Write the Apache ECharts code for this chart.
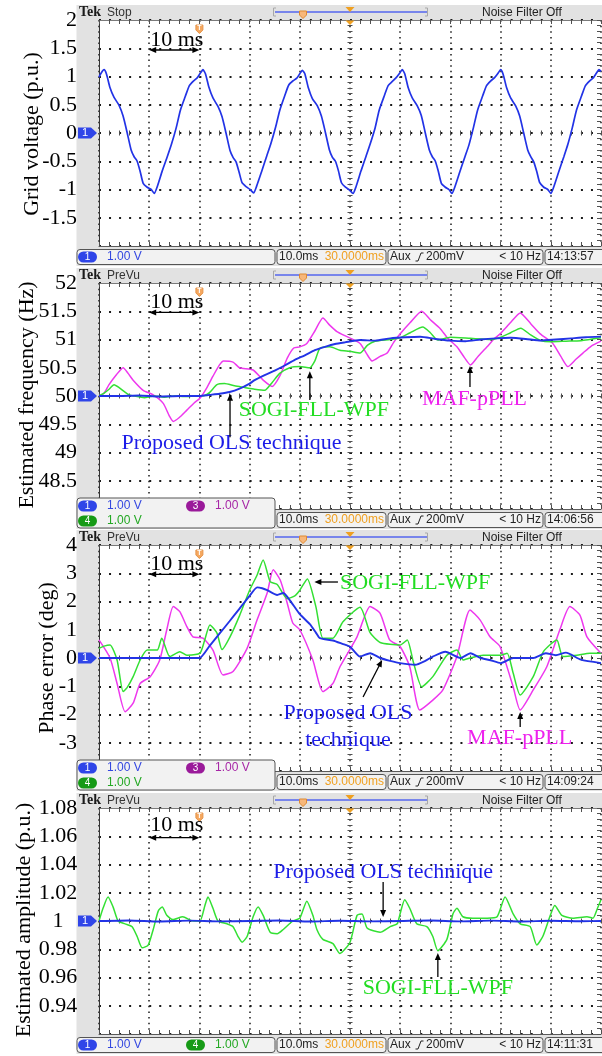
<!DOCTYPE html>
<html>
<head>
<meta charset="utf-8">
<title>Grid synchronisation: OLS vs SOGI-FLL-WPF vs MAF-pPLL</title>
<script src="https://cdn.jsdelivr.net/npm/echarts@6.0.0/dist/echarts.min.js"></script>
<style>
html,body{margin:0;padding:0;background:#ffffff;}
#chart{width:602px;height:1056px;}
</style>
</head>
<body>
<div id="chart"></div>
<script>
// ---------- scope captures, time in ms (10 ms/div, 100 ms on screen) ----------

// grid voltage (p.u.)
const gridVoltage = [
  [0,0.99],[0.5,1.07],[1.0,1.12],[1.5,1.04],[2.2,0.80],[3.0,0.63],[4.0,0.49],[4.8,0.30],[5.6,0.01],[6.4,-0.30],[7.0,-0.42],[7.6,-0.50],[8.2,-0.68],[8.8,-0.89],[9.6,-0.96],[10.4,-1.00],[11.0,-1.07],
  [11.6,-0.95],[12.6,-0.67],[13.6,-0.42],[14.4,-0.21],[15.4,0.10],[16.2,0.40],[17.2,0.65],[18.0,0.84],[18.8,0.92],[19.6,0.98],[20.2,1.06],[20.7,1.12],
  [21.2,1.05],[21.9,0.81],[22.7,0.62],[23.7,0.47],[24.5,0.29],[25.3,0.00],[26.1,-0.31],[26.7,-0.43],[27.3,-0.51],[27.9,-0.69],[28.5,-0.88],[29.3,-0.95],[30.1,-1.00],[30.8,-1.06],
  [31.4,-0.94],[32.4,-0.68],[33.4,-0.41],[34.2,-0.20],[35.2,0.11],[36.0,0.40],[37.0,0.66],[37.8,0.85],[38.6,0.92],[39.4,0.97],[40.0,1.05],[40.5,1.11],
  [41.0,1.05],[41.7,0.80],[42.5,0.61],[43.5,0.48],[44.3,0.30],[45.1,0.01],[45.9,-0.30],[46.5,-0.43],[47.1,-0.50],[47.7,-0.67],[48.3,-0.88],[49.1,-0.96],[49.9,-1.01],[50.6,-1.07],
  [51.2,-0.95],[52.2,-0.67],[53.2,-0.41],[54.0,-0.20],[55.0,0.09],[55.8,0.40],[56.8,0.65],[57.6,0.84],[58.4,0.91],[59.2,0.98],[59.9,1.06],[60.4,1.12],
  [60.9,1.05],[61.6,0.80],[62.4,0.62],[63.4,0.48],[64.2,0.31],[65.0,0.00],[65.8,-0.30],[66.4,-0.42],[67.0,-0.50],[67.6,-0.68],[68.2,-0.89],[69.0,-0.96],[69.7,-1.00],[70.3,-1.07],
  [70.9,-0.95],[71.9,-0.68],[72.9,-0.42],[73.7,-0.21],[74.6,0.10],[75.4,0.40],[76.4,0.65],[77.2,0.84],[78.0,0.92],[78.8,0.98],[79.5,1.06],[80.0,1.12],
  [80.5,1.04],[81.2,0.80],[82.0,0.62],[83.0,0.48],[83.8,0.30],[84.6,0.00],[85.4,-0.30],[86.0,-0.42],[86.6,-0.51],[87.2,-0.68],[87.8,-0.88],[88.6,-0.96],[89.4,-1.00],[90.0,-1.07],
  [90.6,-0.95],[91.6,-0.68],[92.6,-0.42],[93.4,-0.20],[94.3,0.10],[95.1,0.40],[96.1,0.65],[96.9,0.84],[97.7,0.92],[98.5,0.98],[99.1,1.06],[99.6,1.12],[100,1.09]
];

// estimated frequency (Hz)
const freqOLS = [
  [0,50.0],[4,50.0],[8,50.01],[12,49.99],[16,50.0],[20,50.0],[22,50.02],[24,50.04],[26,50.07],[28,50.13],[30,50.22],[31,50.28],[33,50.37],[35,50.45],[37,50.54],[39,50.64],[41,50.72],[43,50.81],[45,50.87],[47,50.92],[49,50.95],[52,50.99],[55,50.98],[58,51.02],[61,51.04],[64,51.05],[67,51.01],[70,50.98],[73,50.97],[76,51.0],[79,51.02],[82,51.03],[85,51.01],[88,50.98],[91,51.0],[94,51.02],[97,51.04],[100,51.05]
];
const freqSOGI = [
  [0,50.0],[1,50.05],[2,50.12],[3,50.2],[4,50.15],[5,50.08],[6,50.02],[7,50.0],[9,49.97],[11,50.0],[13,49.98],[15,50.0],[17,49.99],[19,50.0],[21,50.01],[22,50.06],[23.5,50.2],[25,50.22],[27,50.18],[29,50.15],[31,50.12],[33,50.1],[34.5,50.24],[36,50.4],[38,50.5],[40,50.52],[42,50.5],[43,50.62],[44,50.84],[46,50.87],[48,50.81],[50,50.79],[52,50.76],[53.5,50.9],[55,50.97],[58,51.0],[60,51.03],[62,51.12],[64.5,51.22],[66,51.12],[67.5,50.99],[70,51.04],[74,51.02],[78,51.0],[80,51.04],[82,51.12],[84,51.2],[86,51.08],[88,50.98],[90,50.96],[93,50.97],[96,50.98],[100,51.03]
];
const freqMAF = [
  [0,50.0],[1,50.05],[2,50.2],[3.5,50.38],[4.8,50.5],[5.8,50.4],[6.8,50.28],[8.8,50.1],[10.8,50.02],[12.8,49.87],[14,49.65],[14.8,49.55],[16,49.62],[17.5,49.75],[19,49.88],[20.1,49.96],[21.5,50.15],[22.7,50.35],[24,50.55],[24.8,50.62],[26.7,50.6],[28,50.5],[30.7,50.46],[32.7,50.28],[34.5,50.17],[36,50.35],[37.5,50.67],[38.8,50.85],[40,50.87],[41.4,50.93],[43,51.15],[44.6,51.38],[46,51.25],[47.4,51.14],[49.4,51.05],[52,50.93],[53.3,50.75],[54.4,50.62],[56,50.7],[57.4,50.76],[58.7,50.95],[60,51.1],[62,51.3],[64.3,51.5],[66,51.35],[67.9,51.2],[69.5,51.02],[71.3,50.87],[72.8,50.68],[74,50.55],[75.5,50.7],[77.3,50.87],[78.6,51.0],[79.9,51.1],[82,51.3],[83.9,51.47],[86,51.28],[87.9,51.1],[90.4,50.93],[92,50.7],[93.4,50.52],[95,50.65],[96.4,50.76],[98,50.88],[100,50.97]
];

// phase error (deg)
const phaseOLS = [
  [0,0],[5,0.0],[10,0.0],[15,0.0],[20,0.0],[22,0.42],[24,0.86],[26,1.3],[28,1.75],[30,2.2],[31.5,2.5],[32.5,2.47],[33.5,2.4],[35.5,2.23],[36.7,2.3],[38,2.05],[40,1.55],[42,1.2],[43.2,0.9],[44,0.7],[46.6,0.62],[48.5,0.5],[50,0.4],[52,0.05],[54,0.17],[56,0.0],[58,-0.1],[60,-0.18],[63,-0.24],[65,-0.1],[66.5,0.05],[69,0.22],[72,0.0],[74,0.17],[76,0.0],[78,-0.08],[80,-0.18],[82.5,0.0],[86.5,0.0],[89,0.17],[91,0.1],[93,0.19],[96,-0.06],[100,-0.18]
];
const phaseSOGI = [
  [0,0.34],[1,0.42],[2.2,0.46],[3.6,-0.07],[4.8,-1.19],[5.6,-1.05],[6.8,-0.66],[8.2,-0.07],[9.6,0.28],[11.6,0.28],[12.5,0.7],[14.1,0.05],[16.1,0.22],[17.5,0.1],[20.1,0.17],[21,0.6],[22.1,1.17],[23.5,0.88],[24.5,0.3],[26.1,0.75],[28,1.5],[30,2.4],[31.5,2.94],[32.7,3.47],[34.1,2.7],[35.5,2.6],[37.5,2.1],[39,2.2],[40,2.4],[41.5,2.8],[43.2,1.82],[44.6,0.7],[46.6,0.7],[48.6,1.28],[52,1.8],[54,0.9],[56,0.55],[60,0.46],[61.4,0.64],[62.6,-0.13],[64.3,-1.02],[66.5,-0.66],[69.3,0.1],[71.3,0.28],[72.5,-0.07],[73.9,0.0],[76.5,0.1],[79.9,0.1],[81.3,0.17],[82.5,-0.53],[83.9,-1.31],[86.5,-0.66],[88.5,0.22],[91.2,0.64],[92.4,0.05],[95.2,0.1],[97.8,0.17],[100,0.17]
];
const phaseMAF = [
  [0,0.64],[2.2,0.0],[3.6,-0.9],[5.2,-1.9],[6.8,-1.6],[8.2,-0.9],[10.2,-0.66],[12.1,-0.07],[13.5,1.0],[14.8,1.82],[16.1,1.64],[17.5,1.11],[18.7,0.75],[20.7,0.7],[22.7,0.28],[24.7,-0.6],[26.7,-0.48],[29.5,0.34],[31.5,1.35],[33.5,2.3],[34.7,3.12],[36.1,2.76],[37.5,1.94],[38.6,1.24],[40,1.0],[42.6,-0.07],[44.6,-1.19],[46.6,-0.9],[48,-0.31],[51.4,0.75],[54,1.82],[56,1.58],[57.9,0.64],[60,0.4],[61.9,-0.31],[63.9,-1.84],[66.5,-1.49],[68.5,-1.13],[71.3,0.05],[73.9,1.7],[75.9,1.35],[77.9,0.75],[79.9,0.4],[82.5,-1.02],[83.9,-1.84],[86.5,-1.13],[89.2,-0.31],[91.8,1.0],[93.8,1.82],[95.8,1.52],[97.2,0.75],[100,0.17]
];

// estimated amplitude (p.u.)
const ampOLS = [
  [0,1.0],[6,1.0004],[12,0.9996],[18,1.0003],[24,0.9997],[30,1.0],[36,1.0004],[42,0.9996],[48,1.0002],[54,0.9997],[60,1.0],[66,1.0004],[72,0.9997],[78,1.0003],[84,0.9996],[90,1.0002],[96,0.9998],[100,1.0]
];
const ampSOGI = [
  [0,1.0],[0.8,1.009],[1.8,1.017],[2.8,1.010],[3.8,1.0],[5.2,0.998],[6.6,0.996],[7.6,0.989],[8.6,0.981],[9.8,0.983],[10.8,0.994],[11.8,1.007],[12.6,1.01],[13.5,1.004],[14.7,1.001],[16.7,1.003],[18.7,1.0],[20.1,1.0],[21.1,1.011],[21.7,1.017],[22.7,1.009],[23.7,1.0],[25.5,0.998],[26.7,0.996],[27.7,0.989],[28.5,0.985],[29.5,0.989],[30.7,1.003],[31.7,1.01],[32.7,1.004],[34.1,0.992],[35.5,0.991],[36.7,0.994],[38.6,1.0],[40,1.002],[41.4,1.014],[42.6,1.004],[43.4,0.994],[44.6,0.987],[46.6,0.984],[48,0.977],[50,0.985],[51.4,1.004],[52.4,1.005],[53.4,0.995],[56,0.992],[58,0.996],[59.4,0.998],[59.9,1.004],[60.9,1.015],[61.9,1.009],[63.3,0.998],[65.3,0.996],[66.5,0.989],[67.5,0.979],[69.3,0.987],[70.5,1.005],[71.3,1.009],[72.5,1.003],[74.5,1.002],[77.3,1.002],[79.3,1.003],[80.9,1.017],[82.5,1.005],[83.9,0.998],[85.9,0.996],[87.2,0.983],[88.4,0.989],[89.8,1.003],[90.8,1.011],[92.2,1.004],[94.4,1.002],[97.2,1.003],[98.4,1.002],[99.3,1.009],[100,1.015]
];

// vertical tick labels, top to bottom
const voltTicks  = ['2','1.5','1','0.5','0','-0.5','-1','-1.5'];
const freqTicks  = ['52','51.5','51','50.5','50','49.5','49','48.5'];
const phaseTicks = ['4','3','2','1','0','-1','-2','-3'];
const ampTicks   = ['1.08','1.06','1.04','1.02','1','0.98','0.96','0.94'];

const axisTitles = ['Grid voltage (p.u.)','Estimated frequency (Hz)','Phase error (deg)','Estimated amplitude (p.u.)'];
const clocks = ['14:13:57','14:06:56','14:09:24','14:11:31'];

// ---------- look ----------
const SERIF = '"Liberation Serif", "Times New Roman", serif';
const SANS = '"Liberation Sans Narrow", "Liberation Sans", Arial, sans-serif';
const COL = {
  ols:'#2233e6', sogi:'#33e033', maf:'#ee38ee',
  olsText:'#1c1ce8', sogiText:'#22dd22', mafText:'#ee22ee',
  orange:'#f0a020', frame:'#e2e2e2', box:'#f2f2f2'
};
const CH = {
  '1': {pill:'#2f45e8', text:'#3347e0'},
  '3': {pill:'#9a1a9a', text:'#a626a6'},
  '4': {pill:'#169a16', text:'#23a823'}
};

const PLOT_LEFT = 99, PLOT_W = 502, PLOT_H = 226;
const PANEL_TOP = [20, 283, 545, 808];

const panels = [
  {min:-2, max:2, ticks:voltTicks, title:axisTitles[0], titlePos:[32,134], labelAlign:'right', labelMargin:22,
   ref:0, state:'Stop', clock:clocks[0], readout:[['1']],
   traces:[{data:gridVoltage, color:COL.ols, width:1.7}]},
  {min:48, max:52, ticks:freqTicks, title:axisTitles[1], titlePos:[27,395], labelAlign:'right', labelMargin:22,
   ref:50, state:'PreVu', clock:clocks[1], readout:[['1','3'],['4']],
   traces:[{data:freqMAF, color:COL.maf, width:1.5},{data:freqSOGI, color:COL.sogi, width:1.5},{data:freqOLS, color:COL.ols, width:1.9}]},
  {min:-4, max:4, ticks:phaseTicks, title:axisTitles[2], titlePos:[47,658], labelAlign:'right', labelMargin:22,
   ref:0, state:'PreVu', clock:clocks[2], readout:[['1','3'],['4']],
   traces:[{data:phaseMAF, color:COL.maf, width:1.5},{data:phaseSOGI, color:COL.sogi, width:1.5},{data:phaseOLS, color:COL.ols, width:1.9}]},
  {min:0.92, max:1.08, ticks:ampTicks, title:axisTitles[3], titlePos:[24,920], labelAlign:'center', labelMargin:41,
   ref:1, state:'PreVu', clock:clocks[3], readout:[['1','4']],
   traces:[{data:ampSOGI, color:COL.sogi, width:1.5},{data:ampOLS, color:COL.ols, width:1.9}]}
];

// 10 ms scale bar (text level, arrow level) in each panel's units
const scaleBar = [[1.646,1.469],[51.655,51.48],[3.31,2.963],[1.0676,1.059]];

// method labels and pointer arrows, in data units of their panel
const notes = [
  {panel:1, text:'SOGI-FLL-WPF', color:COL.sogiText, at:[42.8,49.75]},
  {panel:1, text:'MAF-pPLL', color:COL.mafText, at:[74.8,49.94]},
  {panel:1, text:'Proposed OLS technique', color:COL.olsText, at:[26.4,49.17]},
  {panel:2, text:'SOGI-FLL-WPF', color:COL.sogiText, at:[48.0,2.655], align:'left'},
  {panel:2, text:'Proposed OLS\ntechnique', color:COL.olsText, at:[49.6,-2.42]},
  {panel:2, text:'MAF-pPLL', color:COL.mafText, at:[83.8,-2.83]},
  {panel:3, text:'Proposed OLS technique', color:COL.olsText, at:[56.6,1.0347]},
  {panel:3, text:'SOGI-FLL-WPF', color:COL.sogiText, at:[67.5,0.9526]}
];
const pointers = [
  {panel:1, from:[42.0,49.93], to:[42.0,50.44]},
  {panel:1, from:[73.9,50.16], to:[73.9,50.53]},
  {panel:1, from:[26.1,49.27], to:[26.1,50.04]},
  {panel:2, from:[47.6,2.69], to:[42.9,2.69]},
  {panel:2, from:[52.6,-1.38], to:[56.4,-0.07]},
  {panel:2, from:[83.9,-2.44], to:[83.9,-1.91]},
  {panel:3, from:[56.6,1.0276], to:[56.6,1.0028]},
  {panel:3, from:[67.5,0.9604], to:[67.5,0.9774]}
];

// ---------- chart ----------
const chart = echarts.init(document.getElementById('chart'), null, {renderer:'canvas', width:602, height:1056});

const dotColor = '#1a1a1a', tickColor = '#505050';
const grid = [], xAxis = [], yAxis = [], series = [];

function tickText(p, v) {
  const step = (p.max - p.min) / 8;
  const idx = Math.round((p.max - v) / step);
  return (idx >= 0 && idx < p.ticks.length) ? p.ticks[idx] : '';
}
function tickSet(inside, len) {
  const ls = {color: tickColor, width: 1};
  return {
    axisTick: {show:true, inside, length:len, lineStyle:ls},
    minorTick: {show:true, splitNumber:5, length:len, lineStyle:ls}
  };
}
function plainGrid(top, width, height) {
  grid.push({left:PLOT_LEFT, top, width, height, containLabel:false, outerBoundsMode:'none'});
  return grid.length - 1;
}

panels.forEach((p, i) => {
  const top = PANEL_TOP[i];
  const step = (p.max - p.min) / 8;
  const gMain = grid.length;
  grid.push({left:PLOT_LEFT, top, width:PLOT_W, height:PLOT_H, containLabel:false, outerBoundsMode:'none',
    show:true, backgroundColor:'#ffffff', borderWidth:0, z:0});

  const time = {type:'value', min:0, max:100, interval:10, axisLabel:{show:false}, splitLine:{show:false}, z:1};
  const level = {type:'value', min:p.min, max:p.max, interval:step, axisLabel:{show:false}, splitLine:{show:false}, z:1};

  p.xIndex = xAxis.length;
  xAxis.push(Object.assign({}, time, tickSet(true, 4), {gridIndex:gMain, position:'bottom',
    axisLine:{show:true, onZero:false, lineStyle:{color:'#5a5a5a', width:1}},
    splitLine:{show:true, lineStyle:{color:dotColor, width:1.5, type:[1.5, 4.15]}}}));
  xAxis.push(Object.assign({}, time, tickSet(true, 4), {gridIndex:gMain, position:'top',
    axisLine:{show:true, onZero:false, lineStyle:{color:'#7a7a7a', width:1}}}));
  p.yIndex = yAxis.length;
  yAxis.push(Object.assign({}, level, {gridIndex:gMain, position:'left',
    axisLine:{show:true, onZero:false, lineStyle:{color:'#333', width:1}},
    axisTick:{show:false},
    axisLabel:{show:true, margin:p.labelMargin, align:p.labelAlign, fontFamily:SERIF, fontSize:22, color:'#000',
      formatter: v => tickText(p, v)},
    splitLine:{show:true, lineStyle:{color:dotColor, width:2, type:[2, 8.04]}}}));
  yAxis.push(Object.assign({}, level, tickSet(true, 4), {gridIndex:gMain, position:'right', axisLine:{show:false, onZero:false}}));

  // horizontal centre line: short cross ticks (its lower edge is the centre line)
  const gUpper = plainGrid(top, PLOT_W, PLOT_H / 2);
  xAxis.push(Object.assign({}, time, tickSet(true, 2.5), {gridIndex:gUpper, position:'bottom', axisLine:{show:false, onZero:false}}));
  xAxis.push(Object.assign({}, time, tickSet(false, 2.5), {gridIndex:gUpper, position:'bottom', axisLine:{show:false, onZero:false}}));
  yAxis.push({type:'value', gridIndex:gUpper, show:false, min:0, max:1, axisLine:{onZero:false}});

  // vertical centre line ticks
  const gLeft = plainGrid(top, PLOT_W / 2, PLOT_H);
  xAxis.push({type:'value', gridIndex:gLeft, show:false, min:0, max:50, axisLine:{onZero:false}});
  yAxis.push(Object.assign({}, level, tickSet(true, 2.5), {gridIndex:gLeft, position:'right', axisLine:{show:false, onZero:false}}));
  yAxis.push(Object.assign({}, level, tickSet(false, 2.5), {gridIndex:gLeft, position:'right', axisLine:{show:false, onZero:false}}));

  p.traces.forEach(tr => series.push({
    type:'line', xAxisIndex:p.xIndex, yAxisIndex:p.yIndex, data:tr.data,
    symbol:'none', showSymbol:false, silent:true, z:3, smooth:0.2,
    lineStyle:{color:tr.color, width:tr.width}, itemStyle:{color:tr.color}
  }));
});

chart.setOption({animation:false, textStyle:{fontFamily:SERIF}, grid, xAxis, yAxis, series});

// ---------- scope frame, readouts and annotations ----------
const els = [];
const toPx = (p, t, v) => chart.convertToPixel({xAxisIndex:p.xIndex, yAxisIndex:p.yIndex}, [t, v]);

function txt(x, y, text, fill, font, align, z, extra) {
  els.push({type:'text', z: z == null ? 12 : z, silent:true, x, y,
    style: Object.assign({text, fill, font, align: align || 'left', verticalAlign:'middle',
      textAlign: align || 'left', textVerticalAlign:'middle'}, extra || {})});
}
function rect(x, y, w, h, fill, stroke, r, z) {
  els.push({type:'rect', z: z == null ? 11 : z, silent:true, shape:{x, y, width:w, height:h, r: r || 0},
    style:{fill, stroke: stroke || null, lineWidth:1}});
}
function poly(points, fill, stroke, z) {
  els.push({type:'polygon', z: z == null ? 12 : z, silent:true, shape:{points}, style:{fill, stroke: stroke || null, lineWidth:1}});
}
function pline(points, stroke, w, z) {
  els.push({type:'polyline', z: z == null ? 12 : z, silent:true, shape:{points}, style:{stroke, lineWidth: w || 1, fill:null}});
}
function arrow(a, b, both) {
  const dx = b[0] - a[0], dy = b[1] - a[1];
  const len = Math.hypot(dx, dy), ux = dx / len, uy = dy / len;
  const hl = 7, hw = 3;
  const head = (tip, dx1, dy1) => poly([tip,
    [tip[0] - dx1 * hl - dy1 * hw, tip[1] - dy1 * hl + dx1 * hw],
    [tip[0] - dx1 * hl + dy1 * hw, tip[1] - dy1 * hl - dx1 * hw]], '#000', null, 20);
  const s = both ? [a[0] + ux * hl * 0.8, a[1] + uy * hl * 0.8] : a;
  const e = [b[0] - ux * hl * 0.8, b[1] - uy * hl * 0.8];
  els.push({type:'line', z:20, silent:true, shape:{x1:s[0], y1:s[1], x2:e[0], y2:e[1]}, style:{stroke:'#000', lineWidth:1.3}});
  head(b, ux, uy);
  if (both) head(a, -ux, -uy);
}

const small = '12px ' + SANS;
const annotFont = '22px ' + SERIF;

panels.forEach((p, i) => {
  const top = PANEL_TOP[i];
  // screen body around the graticule (top bar, left strip, readout strip)
  rect(76.5, top - 15, 526, 15, COL.frame, null, 0, -10);
  rect(76.5, top, PLOT_LEFT - 76.5, PLOT_H, COL.frame, null, 0, -10);
  rect(76.5, top + PLOT_H, 526, 20, COL.frame, null, 0, -10);

  // top bar
  txt(79, top - 7.5, 'Tek', '#1a1a1a', 'bold 14px ' + SERIF, 'left');
  txt(107, top - 7, p.state, '#333', small, 'left');
  pline([[276, top - 12], [273.5, top - 12], [273.5, top - 4], [276, top - 4]], '#a8a8a8', 1);
  pline([[425, top - 12], [427.5, top - 12], [427.5, top - 4], [425, top - 4]], '#a8a8a8', 1);
  els.push({type:'line', z:12, silent:true, shape:{x1:275, y1:top - 8, x2:427, y2:top - 8}, style:{stroke:'#5566ee', lineWidth:1.5}});
  poly([[345.5, top - 13], [354.5, top - 13], [350, top - 8]], COL.orange);
  poly([[299.5, top - 9], [306.5, top - 9], [306.5, top - 5], [303, top - 1.5], [299.5, top - 5]], '#f7b77a', '#e08a30');
  txt(482, top - 7, 'Noise Filter Off', '#222', small, 'left');

  // trigger markers inside the graticule
  poly([[345.5, top + 0.5], [354.5, top + 0.5], [350, top + 5]], COL.orange);
  const trigX = toPx(p, 20, p.max)[0];
  poly([[trigX - 3.5, top + 5], [trigX + 3.5, top + 5], [trigX + 3.5, top + 10], [trigX, top + 13.5], [trigX - 3.5, top + 10]], '#f5a860', '#e6954a');
  txt(trigX, top + 8.5, 'T', '#ffffff', 'bold 7px ' + SANS, 'center');

  // channel 1 ground marker
  const refY = toPx(p, 0, p.ref)[1];
  poly([[78, refY - 5.5], [91, refY - 5.5], [97, refY], [91, refY + 5.5], [78, refY + 5.5]], CH['1'].pill);
  txt(85, refY, '1', '#ffffff', '11px ' + SANS, 'center');

  // y axis title
  els.push({type:'text', z:12, silent:true, x:p.titlePos[0], y:p.titlePos[1], rotation:Math.PI / 2,
    style:{text:p.title, fill:'#000', font:annotFont, align:'center', verticalAlign:'middle', textAlign:'center', textVerticalAlign:'middle'}});

  // status bar
  const twoRows = p.readout.length > 1;
  const rowY = twoRows ? [top + 223, top + 238] : [top + 237];
  if (twoRows) rect(77, top + 215, 198, 30, COL.box, '#555', 3);
  else rect(77, top + 229.5, 198, 15, COL.box, '#555', 3);
  p.readout.forEach((row, r) => {
    row.forEach((ch, k) => {
      const px0 = k === 0 ? 78 : 186;
      rect(px0, rowY[r] - 5.5, 19, 11, CH[ch].pill, null, 5.5, 12);
      txt(px0 + 9.5, rowY[r], ch, '#ffffff', '10px ' + SANS, 'center', 13);
      txt(px0 + 29, rowY[r], '1.00 V', CH[ch].text, small, 'left');
    });
  });
  const sy = top + 237;
  rect(277, top + 229.5, 109, 15, COL.box, '#555', 3);
  rect(388, top + 229.5, 155, 15, COL.box, '#555', 3);
  rect(545, top + 229.5, 62, 15, COL.box, '#555', 3);
  txt(279, sy, '10.0ms', '#222', small, 'left');
  txt(384, sy, '30.0000ms', COL.orange, small, 'right');
  txt(390, sy, 'Aux', '#222', small, 'left');
  pline([[415.5, sy + 4], [418, sy + 4], [421, sy - 4], [423.5, sy - 4]], '#222', 1);
  txt(426, sy, '200mV', '#222', small, 'left');
  txt(541, sy, '< 10 Hz', '#222', small, 'right');
  txt(547, sy, p.clock, '#222', small, 'left');

  // 10 ms scale bar
  const sb = scaleBar[i];
  const tPos = toPx(p, 15.5, sb[0]);
  txt(tPos[0], tPos[1], '10 ms', '#000', annotFont, 'center', 20);
  arrow(toPx(p, 10, sb[1]), toPx(p, 20, sb[1]), true);
});

notes.forEach(n => {
  const p = panels[n.panel];
  const at = toPx(p, n.at[0], n.at[1]);
  txt(at[0], at[1], n.text, n.color, annotFont, n.align || 'center', 20, {lineHeight:27});
});
pointers.forEach(a => {
  const p = panels[a.panel];
  arrow(toPx(p, a.from[0], a.from[1]), toPx(p, a.to[0], a.to[1]), false);
});

chart.setOption({graphic:{elements:els}});
</script>
</body>
</html>
